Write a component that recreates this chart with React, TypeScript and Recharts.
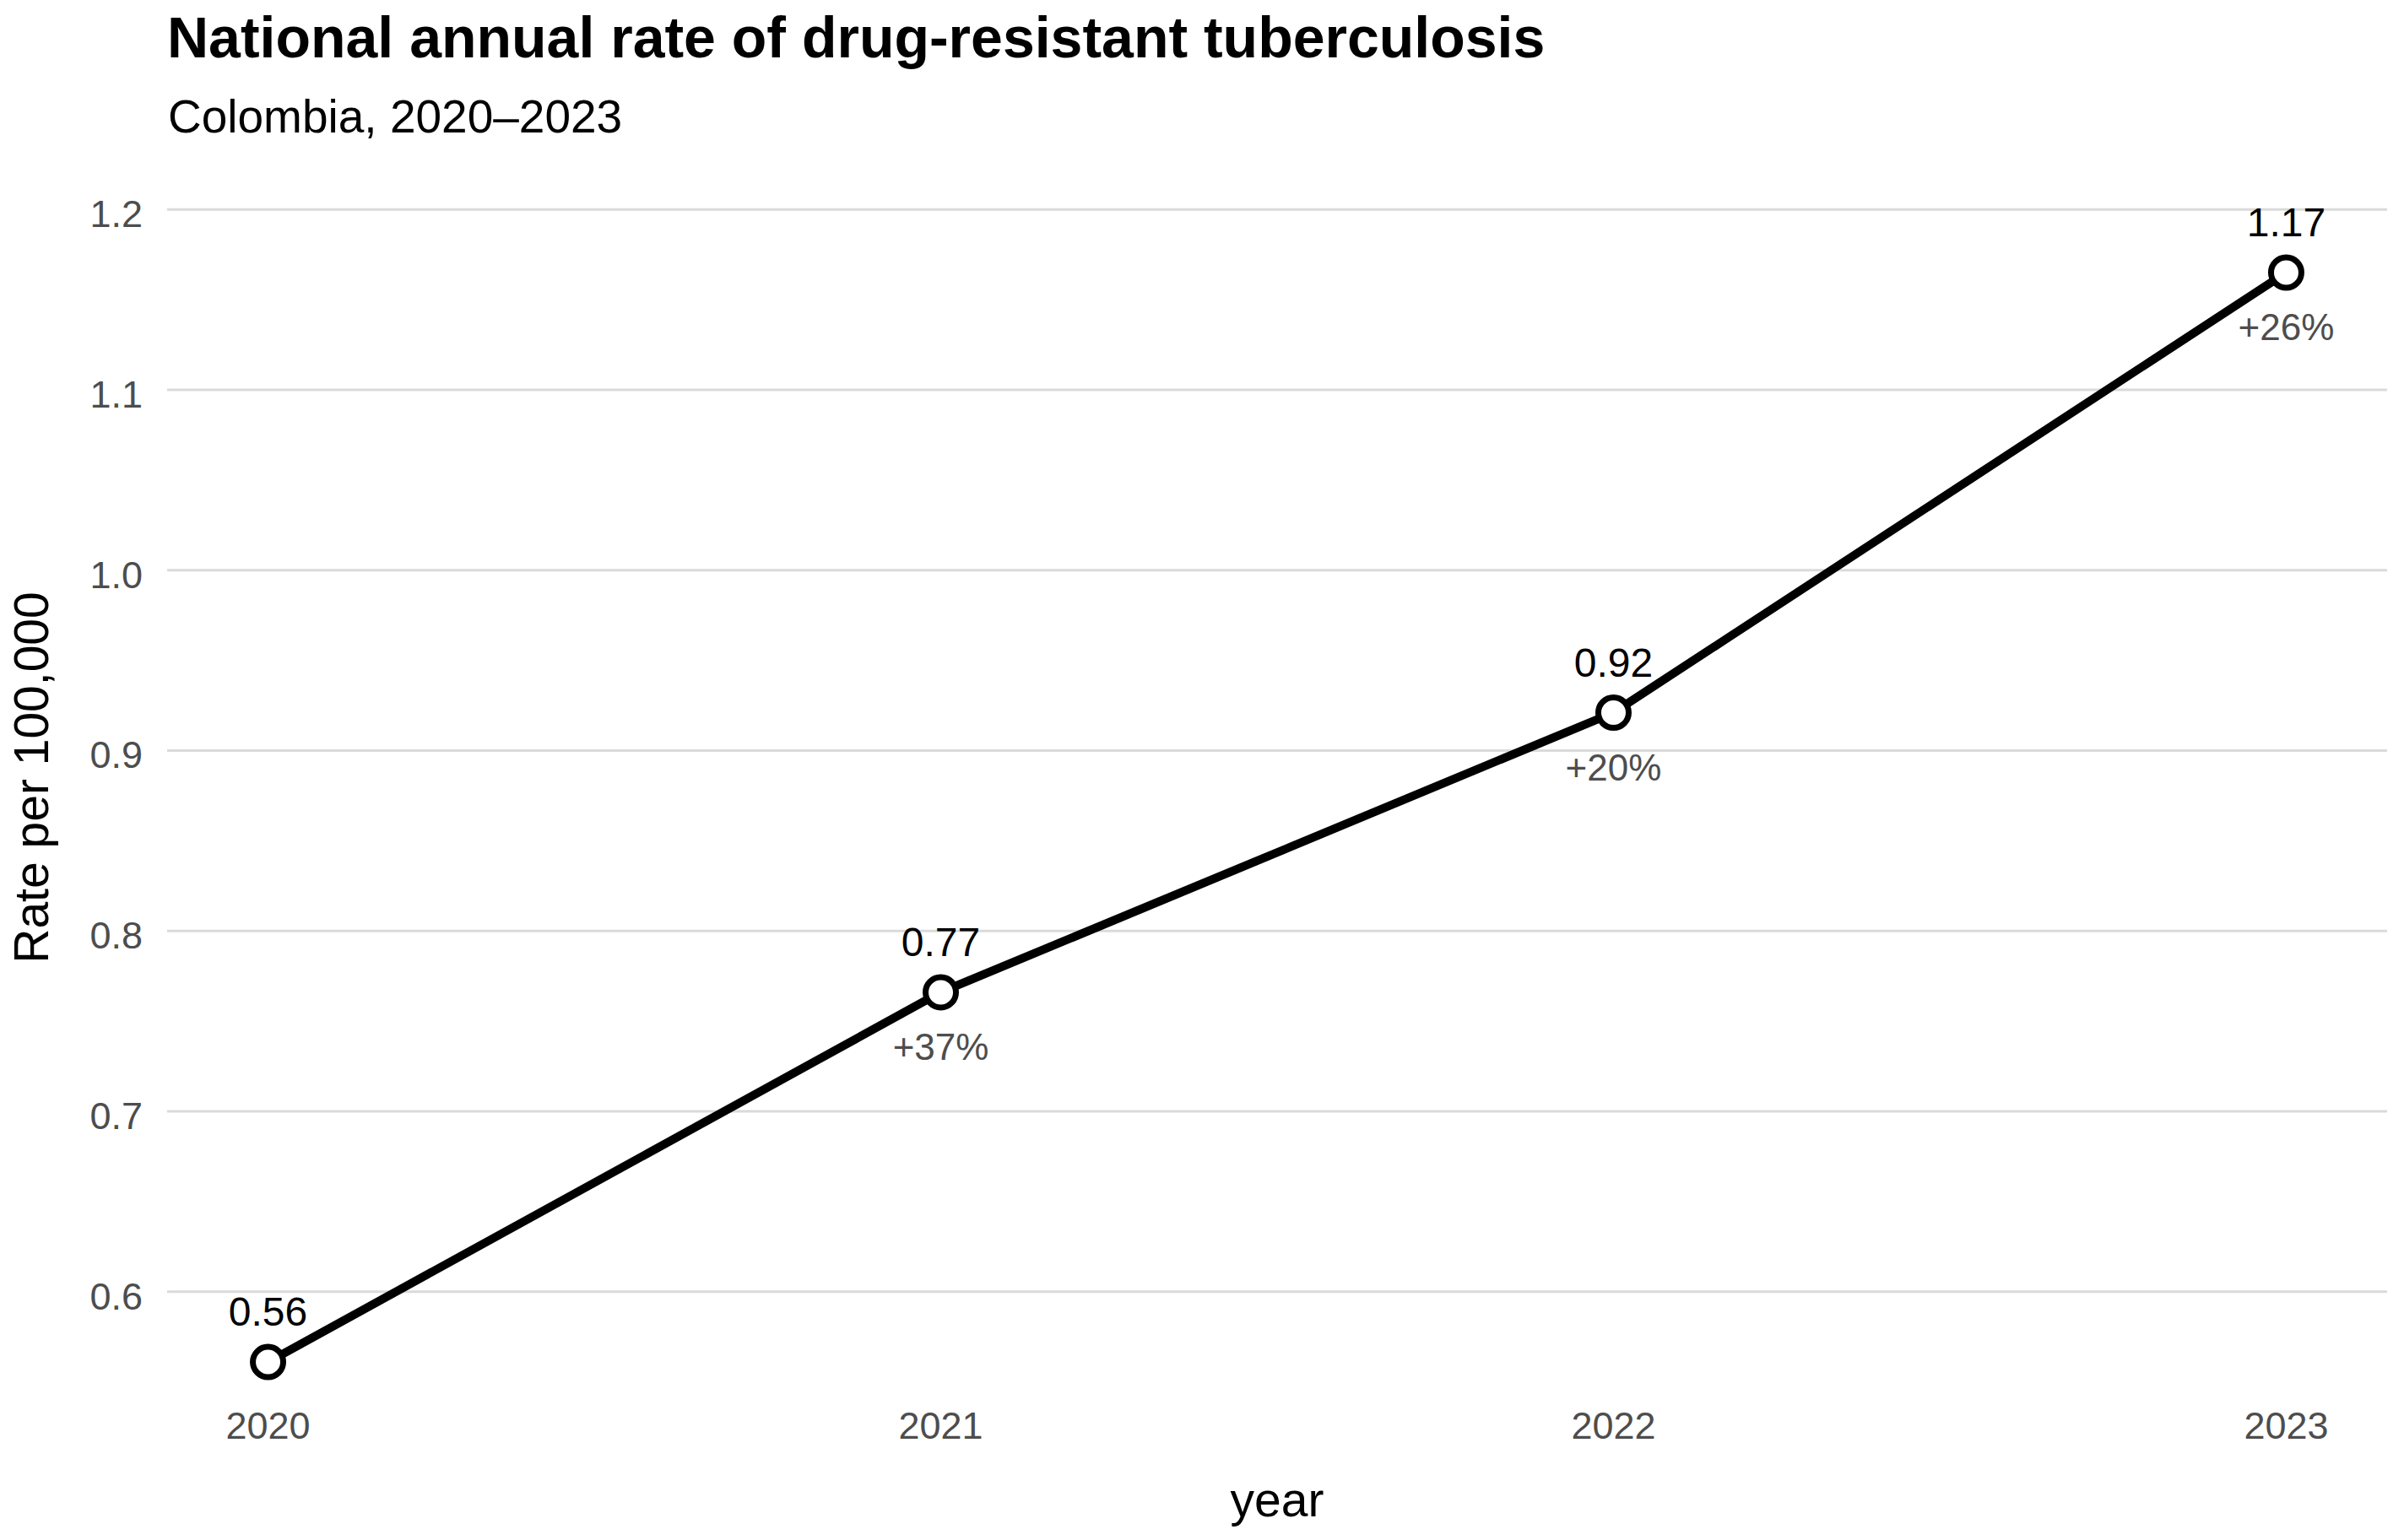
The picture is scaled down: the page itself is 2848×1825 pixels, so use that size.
import React from 'react';
import { LineChart, Line, XAxis, YAxis, CartesianGrid, LabelList } from 'recharts';

const years = [2020, 2021, 2022, 2023];
const rates = [0.561, 0.766, 0.921, 1.165];
const rateLabels = ['0.56', '0.77', '0.92', '1.17'];
const changeLabels = ['', '+37%', '+20%', '+26%'];
const yTicks = [0.6, 0.7, 0.8, 0.9, 1.0, 1.1, 1.2];
const xTicks = [2020, 2021, 2022, 2023];

const data = years.map((year, i) => ({
  year,
  rate: rates[i],
  label: rateLabels[i],
  change: changeLabels[i],
}));

const FONT = '"Liberation Sans", Arial, Helvetica, sans-serif';

const YTick = (props: any) => {
  const { x, y, payload } = props;
  return (
    <text x={x} y={y} dy={21} textAnchor="end" fontFamily={FONT} fontSize={45} fill="#4d4d4d">
      {Number(payload.value).toFixed(1)}
    </text>
  );
};

const XTick = (props: any) => {
  const { x, y, payload } = props;
  return (
    <text x={x} y={y} dy={32} textAnchor="middle" fontFamily={FONT} fontSize={45} fill="#4d4d4d">
      {payload.value}
    </text>
  );
};

const ValueLabel = (props: any) => {
  const { x, y, value } = props;
  if (!value) return null;
  return (
    <text x={x} y={y - 43} textAnchor="middle" fontFamily={FONT} fontSize={48} fill="#000">
      {value}
    </text>
  );
};

const ChangeLabel = (props: any) => {
  const { x, y, value } = props;
  if (!value) return null;
  return (
    <text x={x} y={y + 80} textAnchor="middle" fontFamily={FONT} fontSize={44} fill="#4d4d4d">
      {value}
    </text>
  );
};

const XTitle = (props: any) => {
  const vb = props.viewBox || {};
  return (
    <text x={vb.x + vb.width / 2} y={vb.y + 138} textAnchor="middle" fontFamily={FONT} fontSize={57} fill="#000">
      year
    </text>
  );
};

const YTitle = (props: any) => {
  const vb = props.viewBox || {};
  const cx = vb.x + 57;
  const cy = vb.y + vb.height / 2;
  return (
    <text x={cx} y={cy} transform={`rotate(-90, ${cx}, ${cy})`} textAnchor="middle" fontFamily={FONT} fontSize={57} fill="#000">
      Rate per 100,000
    </text>
  );
};

export default function App() {
  return (
    <div style={{ position: 'absolute', left: 0, top: 0, width: 2848, height: 1825, background: '#fff' }}>
      <LineChart width={2848} height={1825} data={data} margin={{ top: 184, right: 20, bottom: 0, left: 0 }}>
        <CartesianGrid vertical={false} stroke="#dadada" strokeWidth={3} syncWithTicks />
        <XAxis
          dataKey="year"
          type="number"
          domain={[2019.85, 2023.15]}
          ticks={xTicks}
          axisLine={false}
          tickLine={false}
          tickSize={0}
          tickMargin={14}
          height={166}
          tick={<XTick />}
          label={<XTitle />}
          allowDecimals={false}
        />
        <YAxis
          type="number"
          domain={[0.54, 1.23]}
          ticks={yTicks}
          axisLine={false}
          tickLine={false}
          tickSize={0}
          tickMargin={29}
          width={198}
          tick={<YTick />}
          label={<YTitle />}
          allowDataOverflow
        />
        <Line
          dataKey="rate"
          stroke="#000"
          strokeWidth={10}
          isAnimationActive={false}
          dot={{ r: 18, fill: '#fff', stroke: '#000', strokeWidth: 7 }}
          activeDot={false}
        >
          <LabelList dataKey="label" content={<ValueLabel />} />
          <LabelList dataKey="change" content={<ChangeLabel />} />
        </Line>
      </LineChart>
      <svg width={2848} height={180} style={{ position: 'absolute', left: 0, top: 0, pointerEvents: 'none' }}>
        <text x={198} y={68} fontFamily={FONT} fontSize={68} fontWeight="bold" fill="#000">
          National annual rate of drug-resistant tuberculosis
        </text>
        <text x={199} y={157} fontFamily={FONT} fontSize={55} fill="#000">
          Colombia, 2020–2023
        </text>
      </svg>
    </div>
  );
}
